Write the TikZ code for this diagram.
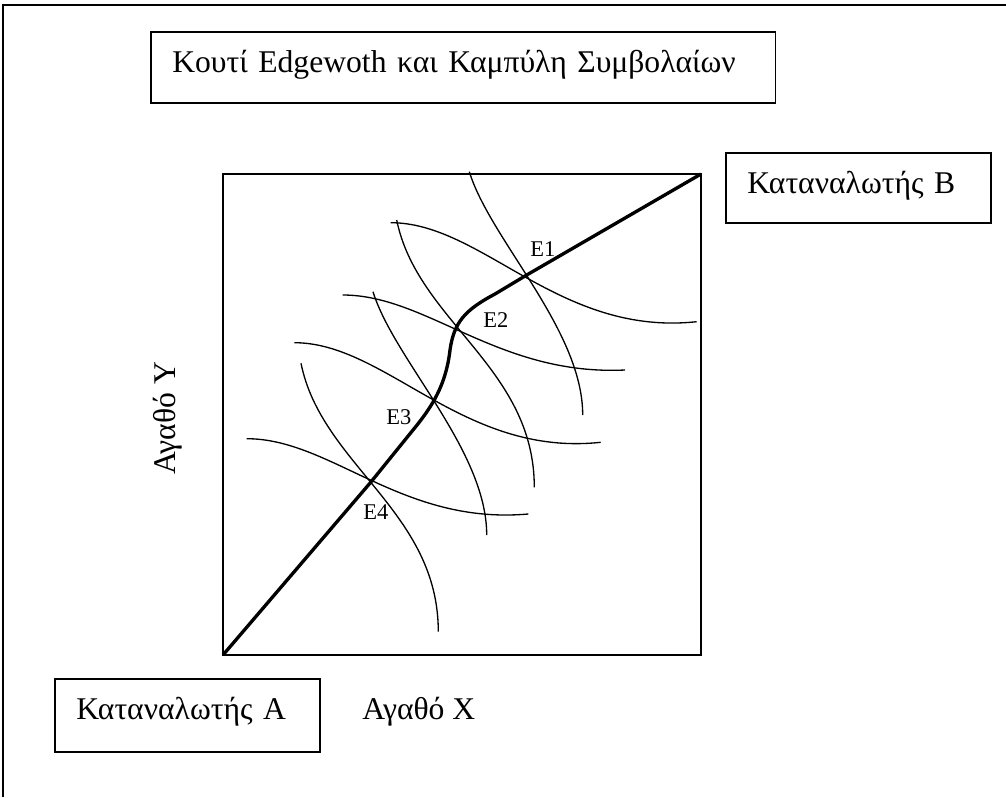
\documentclass[tikz,border=0pt]{standalone}
\usepackage{fontspec}
\setmainfont{Liberation Serif}
\usetikzlibrary{positioning}
\newcommand{\boxfont}{\fontsize{18}{21}\selectfont}
\newcommand{\eqfont}{\fontsize{12.8}{14}\selectfont}

\begin{document}
\begin{tikzpicture}[x=0.02cm, y=-0.02cm,
    labelbox/.style={draw, line width=0.9pt, anchor=north west, align=left, font=\boxfont,
      inner xsep=0.43cm, inner ysep=0.41cm, text height=0.4cm, text depth=0.2cm},
    icurve/.style={line width=0.75pt},
    contract/.style={line width=1.9pt, line join=round},
    eqlabel/.style={font=\eqfont, anchor=base west, inner sep=0pt}]
  \useasboundingbox (0,0) rectangle (1006,797);
  % Outer frame
  \draw[line width=1.1pt] (3,797) -- (3,5) -- (1006,5);
  % Edgeworth box
  \draw[line width=1pt] (223,174) rectangle (701,655);
  \coordinate (OA) at (223,655);
  \coordinate (OB) at (701,174);
  % Equilibrium points
  \coordinate (E1) at (526.7,275);
  \coordinate (E2) at (457.3,327.3);
  \coordinate (E3) at (433.3,400);
  \coordinate (E4) at (370.7,482.3);
  % Indifference curves through E1
  \draw[icurve] (469.3,171.7) .. controls (490.3,239.8) and (582.7,329.8) .. (582.7,415);
  \draw[icurve] (390.7,222.7) .. controls (482.5,222.7) and (559,336.6) .. (696.7,321.7);
  % Indifference curves through E2
  \draw[icurve] (396.7,220) .. controls (417.3,321.6) and (534.3,367) .. (534.3,487.3);
  \draw[icurve] (342.7,295) .. controls (427.4,295) and (498,376) .. (625,370);
  % Indifference curves through E3
  \draw[icurve] (373,291.7) .. controls (394,359.8) and (486.7,449.8) .. (486.7,535);
  \draw[icurve] (294.3,342.7) .. controls (386.2,342.7) and (462.8,457.2) .. (600.7,442.3);
  % Indifference curves through E4
  \draw[icurve] (301,363.3) .. controls (321.6,465.3) and (438.3,510.9) .. (438.3,631.7);
  \draw[icurve] (246.7,438.7) .. controls (331.2,438.7) and (401.6,525.3) .. (528.3,514);
  % Contract curve
  \draw[contract] (OA) -- (E4) -- (413,430) .. controls (432,407) and (446,385) .. (450,350)
    .. controls (454,322) and (465,310) .. (495,294) -- (E1) -- (OB);
  % Point labels
  \node[eqlabel] (lE1) at (530,256) {E1};
  \node[eqlabel] (lE2) at (483,327) {E2};
  \node[eqlabel] (lE3) at (386,424) {E3};
  \node[eqlabel] (lE4) at (363,519) {E4};
  % Boxes and axis labels
  \node[labelbox, text width=11.64cm] (title) at (150,31) {Κουτί Edgewoth και Καμπύλη Συμβολαίων};
  \node[labelbox, text width=4.44cm, text depth=0.18cm] (consB) at (725,152) {Καταναλωτής B};
  \node[labelbox, text width=4.44cm, text depth=0.24cm] (consA) at (54,678) {Καταναλωτής A};
  \node[font=\boxfont, anchor=base west, inner sep=0pt] (goodX) at (362,719) {Αγαθό X};
  \node[font=\boxfont, rotate=90, anchor=base, inner sep=0pt] (goodY) at (175,418.5) {Αγαθό Y};
\end{tikzpicture}
\end{document}
